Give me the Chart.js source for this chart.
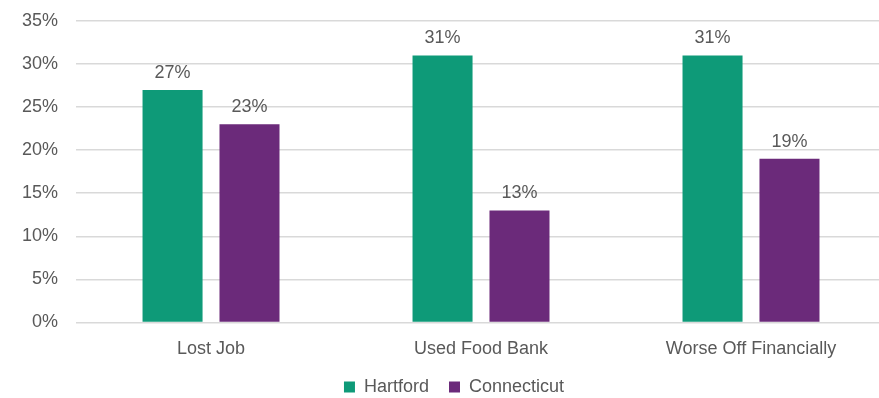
<!DOCTYPE html>
<html>
<head>
<meta charset="utf-8">
<script src="https://cdn.jsdelivr.net/npm/chart.js@4/dist/chart.umd.min.js"></script>
<style>
  html, body { margin: 0; padding: 0; background: #ffffff; overflow: hidden; }
  #wrap { width: 879px; height: 398px; overflow: hidden; position: relative; }
  #box { width: 892px; height: 416px; position: absolute; left: 0; top: 0; }
</style>
</head>
<body>
<div id="wrap"><div id="box"><canvas id="c"></canvas></div></div>
<script>
const categories = ['Lost Job', 'Used Food Bank', 'Worse Off Financially'];
const seriesNames = ['Hartford', 'Connecticut'];
const hartford = [27, 31, 31];
const connecticut = [23, 13, 19];
const yTicks = [0, 5, 10, 15, 20, 25, 30, 35];

const TEXT = '#595959';
const FONT = 'Liberation Sans, Arial, Helvetica, sans-serif';

const valueLabels = {
  id: 'valueLabels',
  afterDatasetsDraw(chart) {
    const ctx = chart.ctx;
    ctx.save();
    ctx.fillStyle = TEXT;
    ctx.font = '18px ' + FONT;
    ctx.textAlign = 'center';
    ctx.textBaseline = 'bottom';
    chart.data.datasets.forEach((ds, i) => {
      chart.getDatasetMeta(i).data.forEach((bar, j) => {
        ctx.fillText(ds.data[j] + '%', bar.x, bar.y - 8);
      });
    });
    ctx.restore();
  }
};

// pull the legend a little closer to the axis labels
const legendShift = {
  id: 'legendShift',
  afterLayout(chart) {
    const lg = chart.legend;
    if (lg) { lg.top -= 10; lg.bottom -= 10; }
  }
};

new Chart(document.getElementById('c'), {
  type: 'bar',
  data: {
    labels: categories,
    datasets: [
      { label: seriesNames[0], data: hartford, backgroundColor: '#0e9a78', borderWidth: 0 },
      { label: seriesNames[1], data: connecticut, backgroundColor: '#6b2a7a', borderWidth: 0 }
    ]
  },
  options: {
    responsive: true,
    maintainAspectRatio: false,
    animation: false,
    layout: { padding: { left: 22, right: 6, top: 21, bottom: 0 } },
    datasets: { bar: { categoryPercentage: 0.57, barPercentage: 0.78 } },
    plugins: {
      legend: {
        position: 'bottom',
        labels: {
          color: TEXT,
          font: { size: 18, family: FONT },
          boxWidth: 11,
          boxHeight: 11,
          padding: 20
        }
      },
      tooltip: { enabled: false }
    },
    scales: {
      x: {
        grid: { display: false },
        border: { display: false },
        ticks: { color: TEXT, font: { size: 18, family: FONT }, padding: 8 }
      },
      y: {
        min: 0,
        max: 35,
        afterBuildTicks(axis) { axis.ticks = yTicks.map(v => ({ value: v })); },
        grid: { color: '#d9d9d9', lineWidth: 1.5, drawTicks: true, tickLength: 18, tickColor: 'rgba(0,0,0,0)' },
        border: { display: false },
        ticks: {
          color: TEXT,
          font: { size: 18, family: FONT },
          padding: 0,
          callback: v => v + '%'
        }
      }
    }
  },
  plugins: [valueLabels, legendShift]
});
</script>
</body>
</html>
